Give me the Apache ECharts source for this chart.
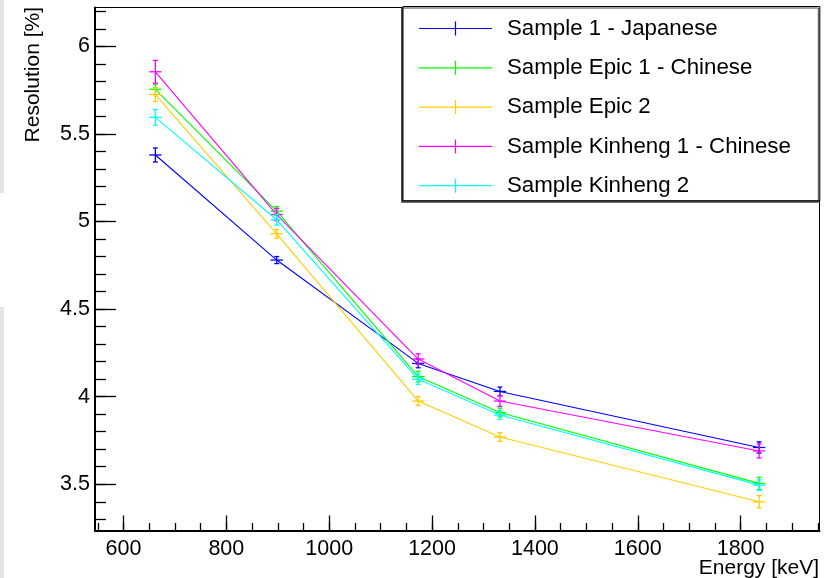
<!DOCTYPE html>
<html>
<head>
<meta charset="utf-8">
<script src="https://cdn.jsdelivr.net/npm/echarts@6/dist/echarts.min.js"></script>
<style>
  html, body { margin: 0; padding: 0; background: #fff; }
  #chart { width: 828px; height: 578px; }
</style>
</head>
<body>
<div id="chart"></div>
<script>
// Gamma line energies (keV)
const energies = [662, 898, 1173, 1332, 1836];
const energyErr = [12, 12, 12, 12, 12];

const sampleNames = [
  'Sample 1 - Japanese',
  'Sample Epic 1 - Chinese',
  'Sample Epic 2',
  'Sample Kinheng 1 - Chinese',
  'Sample Kinheng 2'
];
const sampleColors = ['#0000ff', '#00ff00', '#ffcc00', '#ff00ff', '#00ffff'];

// Energy resolution (%) per sample and its uncertainty
const resJapanese = [5.38, 4.78, 4.19, 4.03, 3.71];
const errJapanese = [0.04, 0.02, 0.025, 0.025, 0.032];
const resEpic1 = [5.755, 5.06, 4.115, 3.91, 3.505];
const errEpic1 = [0.03, 0.025, 0.03, 0.025, 0.035];
const resEpic2 = [5.725, 4.93, 3.975, 3.77, 3.40];
const errEpic2 = [0.04, 0.025, 0.025, 0.025, 0.035];
const resKinheng1 = [5.855, 5.04, 4.215, 3.975, 3.69];
const errKinheng1 = [0.065, 0.035, 0.03, 0.03, 0.04];
const resKinheng2 = [5.595, 5.01, 4.10, 3.895, 3.495];
const errKinheng2 = [0.045, 0.03, 0.03, 0.025, 0.03];

const sampleRes = [resJapanese, resEpic1, resEpic2, resKinheng1, resKinheng2];
const sampleErr = [errJapanese, errEpic1, errEpic2, errKinheng1, errKinheng2];

// Axis ticks
const xMajor = [600, 800, 1000, 1200, 1400, 1600, 1800];
const xMinor = [550, 600, 650, 700, 750, 800, 850, 900, 950, 1000, 1050, 1100, 1150, 1200, 1250,
  1300, 1350, 1400, 1450, 1500, 1550, 1600, 1650, 1700, 1750, 1800, 1850, 1900, 1950];
const yMajor = [3.5, 4, 4.5, 5, 5.5, 6];
const yMinor = [3.3, 3.4, 3.5, 3.6, 3.7, 3.8, 3.9, 4.0, 4.1, 4.2, 4.3, 4.4, 4.5, 4.6, 4.7, 4.8, 4.9,
  5.0, 5.1, 5.2, 5.3, 5.4, 5.5, 5.6, 5.7, 5.8, 5.9, 6.0, 6.1, 6.2];

const xRange = [544.6, 1953.4];
const yRange = [3.236, 6.222];
const FONT = '"Liberation Sans", Arial, Helvetica, sans-serif';

const chart = echarts.init(document.getElementById('chart'), null, { renderer: 'canvas' });

function errorBars(color) {
  return function (params, api) {
    const x = api.value(0), y = api.value(1), ex = api.value(2), ey = api.value(3);
    const top = api.coord([x, y + ey]);
    const bot = api.coord([x, y - ey]);
    const left = api.coord([x - ex, y]);
    const right = api.coord([x + ex, y]);
    const style = { stroke: color, lineWidth: 1.3 };
    const cap = 2.5;
    return {
      type: 'group',
      children: [
        { type: 'line', shape: { x1: top[0], y1: top[1], x2: bot[0], y2: bot[1] }, style },
        { type: 'line', shape: { x1: top[0] - cap, y1: top[1], x2: top[0] + cap, y2: top[1] }, style },
        { type: 'line', shape: { x1: bot[0] - cap, y1: bot[1], x2: bot[0] + cap, y2: bot[1] }, style },
        { type: 'line', shape: { x1: left[0], y1: left[1], x2: right[0], y2: right[1] }, style }
      ]
    };
  };
}

const series = [];
sampleNames.forEach(function (name, i) {
  const pts = energies.map(function (e, k) { return [e, sampleRes[i][k]]; });
  series.push({
    name: name,
    type: 'line',
    xAxisIndex: 0,
    yAxisIndex: 0,
    data: pts,
    symbol: 'none',
    lineStyle: { color: sampleColors[i], width: 1.1 },
    itemStyle: { color: sampleColors[i] },
    animation: false,
    z: 3 + i
  });
  series.push({
    name: name,
    type: 'custom',
    xAxisIndex: 0,
    yAxisIndex: 0,
    data: energies.map(function (e, k) { return [e, sampleRes[i][k], energyErr[k], sampleErr[i][k]]; }),
    renderItem: errorBars(sampleColors[i]),
    itemStyle: { color: sampleColors[i] },
    animation: false,
    z: 3 + i
  });
});

const legendIcon = 'path://M0,6.4 L73,6.4 L73,7.6 L0,7.6 Z M35.9,0 L37.1,0 L37.1,14 L35.9,14 Z';

const option = {
  animation: false,
  backgroundColor: '#ffffff',
  grid: {
    left: 95, top: 7.5, right: 8.5, bottom: 47.5,
    show: true, borderColor: '#000', borderWidth: 1, backgroundColor: '#fff'
  },
  xAxis: [
    {
      type: 'value', min: xRange[0], max: xRange[1], position: 'bottom',
      axisLine: { show: true, onZero: false, lineStyle: { color: '#000', width: 2 } },
      axisTick: { show: true, inside: true, length: 15, customValues: xMajor, lineStyle: { color: '#000', width: 1.3 } },
      axisLabel: { show: true, customValues: xMajor, margin: 8, color: '#000', fontSize: 21.5, fontFamily: FONT,
        formatter: function (v) { return String(v); } },
      splitLine: { show: false }
    },
    {
      type: 'value', min: xRange[0], max: xRange[1], position: 'bottom',
      axisLine: { show: false },
      axisTick: { show: true, inside: true, length: 7.5, customValues: xMinor, lineStyle: { color: '#000', width: 1.3 } },
      axisLabel: { show: false },
      splitLine: { show: false }
    }
  ],
  yAxis: [
    {
      type: 'value', min: yRange[0], max: yRange[1], position: 'left',
      axisLine: { show: true, onZero: false, lineStyle: { color: '#000', width: 2 } },
      axisTick: { show: true, inside: true, length: 21, customValues: yMajor, lineStyle: { color: '#000', width: 1.3 } },
      axisLabel: { show: true, customValues: yMajor, margin: 5, color: '#000', fontSize: 21.5, fontFamily: FONT,
        formatter: function (v) { return String(v); } },
      splitLine: { show: false }
    },
    {
      type: 'value', min: yRange[0], max: yRange[1], position: 'left',
      axisLine: { show: false },
      axisTick: { show: true, inside: true, length: 11, customValues: yMinor, lineStyle: { color: '#000', width: 1.3 } },
      axisLabel: { show: false },
      splitLine: { show: false }
    }
  ],
  legend: {
    data: sampleNames,
    orient: 'vertical',
    left: 403, top: 6.5,
    width: 416,
    padding: [11, 29, 4, 16],
    itemWidth: 73, itemHeight: 14, itemGap: 17.3,
    icon: legendIcon,
    itemStyle: { borderWidth: 0 },
    selectedMode: false,
    backgroundColor: '#fff',
    borderColor: '#000', borderWidth: 1,
    shadowColor: '#444', shadowBlur: 0, shadowOffsetX: -1.5, shadowOffsetY: 1.5,
    textStyle: { color: '#000', fontSize: 22.3, fontFamily: FONT, lineHeight: 22, padding: [0, 0, 0, 10] }
  },
  graphic: [
    { type: 'rect', left: 0, top: 0, shape: { width: 4, height: 193 }, style: { fill: '#e4e4e4' }, z: -1 },
    { type: 'rect', left: 0, top: 307, shape: { width: 4, height: 271 }, style: { fill: '#e4e4e4' }, z: -1 },
    { type: 'text', x: 819, y: 568, style: { text: 'Energy [keV]', fill: '#000', font: '21px ' + FONT, align: 'right', verticalAlign: 'middle' } },
    { type: 'text', x: 33, y: 7, rotation: Math.PI / 2, style: { text: 'Resolution [%]', fill: '#000', font: '21px ' + FONT, align: 'right', verticalAlign: 'middle' } }
  ],
  series: series
};

chart.setOption(option);
</script>
</body>
</html>
